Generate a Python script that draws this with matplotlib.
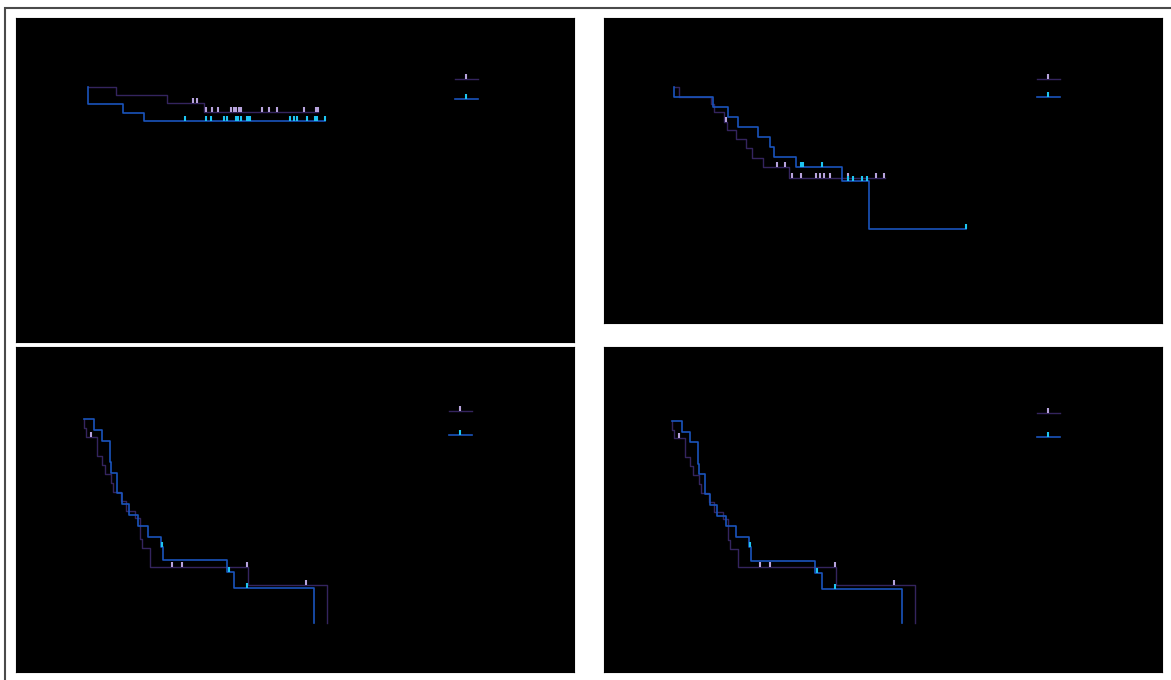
import numpy as np
import matplotlib
matplotlib.use("Agg")
import matplotlib.pyplot as plt
from matplotlib.lines import Line2D
from matplotlib.patches import Rectangle

# colours
PURPLE = "#34245e"
PURPLE_MARK = "#b7a3dc"
BLUE = "#1a54bc"
BLUE_MARK = "#1ec5f2"

# ---- panel A (top left) ----
a1_t = [0, 7.1, 19.8, 29.0]
a1_s = [1.0, 0.961, 0.921, 0.877]
a1_end = 57.7
a1_cens = [26.45, 27.45, 29.55, 31.2, 32.55, 35.9, 36.5, 37.1, 37.75, 38.25,
           43.7, 45.45, 47.45, 54.2, 57.1, 57.7]
a2_t = [0, 0.1, 8.95, 14.1]
a2_s = [1.0, 0.918, 0.875, 0.834]
a2_end = 59.4
a2_cens = [24.4, 29.55, 30.9, 34.1, 34.75, 37.05, 37.55, 38.4, 39.8, 40.25,
           40.6, 50.6, 51.6, 52.25, 54.95, 56.9, 57.45, 59.4]

# ---- panel B (top right) ----
b1_t = [0, 1.25, 9.2, 10.1, 12.5, 13.2, 15.5, 17.9, 19.4, 22.3, 28.75]
b1_s = [1.0, 0.946, 0.906, 0.863, 0.812, 0.768, 0.719, 0.669, 0.619, 0.569, 0.508]
b1_end = 52.75
b1_cens = [13.0, 25.7, 27.8, 29.6, 31.8, 35.6, 36.5, 37.4, 38.9, 43.6, 50.5, 52.6]
b2_t = [0, 0.05, 9.8, 13.6, 15.9, 20.9, 24.0, 25.1, 30.5, 41.9, 48.8]
b2_s = [1.0, 0.946, 0.893, 0.839, 0.785, 0.732, 0.678, 0.624, 0.569, 0.494, 0.235]
b2_end = 73.0
b2_cens = [31.7, 32.2, 36.9, 43.6, 44.8, 47.1, 48.2, 73.0]

# ---- panels C and D (bottom row, same cohort) ----
c1_t = [0, 0.1, 0.5, 3.2, 4.6, 5.25, 6.7, 7.2, 9.4, 10.65, 12.8, 14.15, 14.45,
        16.6, 41.1, 60.9]
c1_s = [1.0, 0.956, 0.915, 0.822, 0.776, 0.730, 0.686, 0.641, 0.597, 0.549,
        0.513, 0.411, 0.366, 0.275, 0.185, 0.0]
c1_end = 60.9
c1_cens = [1.9, 22.15, 24.6, 40.75, 55.6]
c2_t = [0, 2.5, 4.5, 6.45, 6.8, 8.3, 9.6, 11.3, 13.6, 16.15, 19.4, 19.9, 35.9,
        37.6, 57.5]
c2_s = [1.0, 0.947, 0.895, 0.789, 0.738, 0.639, 0.584, 0.530, 0.477, 0.423,
        0.374, 0.308, 0.248, 0.169, 0.0]
c2_end = 57.5
c2_cens = [19.6, 36.2, 40.8]


def km(ax, t, s, end, cens, color, mcolor, lw):
    x = list(t) + [end]
    y = list(s) + [s[-1]]
    ax.step(x, y, where="post", color=color, lw=lw)
    idx = np.searchsorted(t, cens, side="right") - 1
    ax.plot(cens, np.array(s)[idx], ls="none", marker=2, ms=3.3, mew=1.5,
            color=mcolor)


fig = plt.figure(figsize=(11.71, 6.80), dpi=100)
fig.add_artist(Rectangle((5 / 1171, -0.05), 1.1, (680 - 8) / 680 + 0.05,
                         transform=fig.transFigure, fill=False,
                         edgecolor="#4a4a4a", lw=1.5))


def panel(rect, xlim, ylim, curves, leg_anchor, spacing):
    L, T, R, B = rect
    ax = fig.add_axes([L / 1171, 1 - B / 680, (R - L) / 1171, (B - T) / 680])
    ax.set_facecolor("black")
    for sp in ax.spines.values():
        sp.set_color("black")
    ax.tick_params(length=0, labelbottom=False, labelleft=False)
    for c in curves:
        km(ax, *c)
    ax.set_xlim(*xlim)
    ax.set_ylim(*ylim)
    handles = [
        Line2D([], [], color=PURPLE, lw=1.0, marker=2, ms=3.3, mew=1.5,
               mec=PURPLE_MARK),
        Line2D([], [], color=BLUE, lw=1.2, marker=2, ms=3.3, mew=1.5,
               mec=BLUE_MARK),
    ]
    ax.legend(handles, ["", ""], loc="upper left",
              bbox_to_anchor=leg_anchor, frameon=False, numpoints=1,
              handlelength=1.65, borderpad=0, borderaxespad=0,
              labelspacing=spacing, fontsize=10)
    return ax


panel((16, 18, 574, 342), (-17.875, 121.625), (-0.2547, 1.3414),
      [(a1_t, a1_s, a1_end, a1_cens, PURPLE, PURPLE_MARK, 1.0),
       (a2_t, a2_s, a2_end, a2_cens, BLUE, BLUE_MARK, 1.2)],
      ((455 - 16) / 558, 1 - (73 - 18) / 324), 0.45)
panel((604, 18, 1162, 323), (-17.5, 122.0), (-0.2684, 1.3688),
      [(b1_t, b1_s, b1_end, b1_cens, PURPLE, PURPLE_MARK, 1.0),
       (b2_t, b2_s, b2_end, b2_cens, BLUE, BLUE_MARK, 1.2)],
      ((1037 - 604) / 558, 1 - (72.5 - 18) / 305), 0.33)
panel((16, 347, 574, 672), (-16.925, 122.575), (-0.2424, 1.3555),
      [(c1_t, c1_s, c1_end, c1_cens, PURPLE, PURPLE_MARK, 1.0),
       (c2_t, c2_s, c2_end, c2_cens, BLUE, BLUE_MARK, 1.2)],
      ((449 - 16) / 558, 1 - (405 - 347) / 325), 0.72)
panel((604, 347, 1162, 672), (-16.925, 122.575), (-0.2444, 1.3669),
      [(c1_t, c1_s, c1_end, c1_cens, PURPLE, PURPLE_MARK, 1.0),
       (c2_t, c2_s, c2_end, c2_cens, BLUE, BLUE_MARK, 1.2)],
      ((1037 - 604) / 558, 1 - (407 - 347) / 325), 0.72)

fig.savefig("out.png", dpi=100, facecolor="white")
